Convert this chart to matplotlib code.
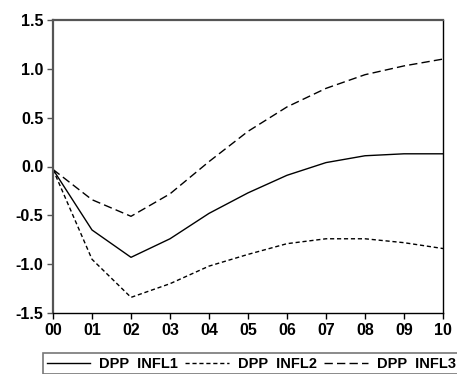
import matplotlib
matplotlib.use("Agg")
import matplotlib.pyplot as plt

# 数据
periods = ["00", "01", "02", "03", "04", "05", "06", "07", "08", "09", "10"]
infl1 = [-0.03, -0.65, -0.93, -0.74, -0.48, -0.27, -0.09, 0.04, 0.11, 0.13, 0.13]
infl2 = [-0.03, -0.95, -1.34, -1.20, -1.02, -0.90, -0.79, -0.74, -0.74, -0.78, -0.84]
infl3 = [-0.03, -0.34, -0.51, -0.28, 0.05, 0.36, 0.61, 0.80, 0.94, 1.03, 1.10]
labels = ["DPP  INFL1", "DPP  INFL2", "DPP  INFL3"]
yticks = [-1.5, -1.0, -0.5, 0.0, 0.5, 1.0, 1.5]

plt.rcParams['font.family'] = ['Liberation Sans', 'DejaVu Sans']
plt.rcParams['font.weight'] = 'bold'

W, H = 457, 374
fig = plt.figure(figsize=(W / 100, H / 100), dpi=100)
ax = fig.add_axes([53 / W, 1 - 313 / H, (443 - 53) / W, (313 - 20) / H])

x = list(range(len(periods)))
l1, = ax.plot(x, infl1, color='black', lw=1.0, linestyle='-')
l2, = ax.plot(x, infl2, color='black', lw=1.0, linestyle=(0, (3, 2)))
l3, = ax.plot(x, infl3, color='black', lw=1.0, linestyle=(0, (6, 3)))

ax.set_xlim(0, 10)
ax.set_ylim(-1.5, 1.5)
ax.set_xticks(x)
ax.set_xticklabels(periods)
ax.set_yticks(yticks)
ax.set_yticklabels([f"{v:.1f}" for v in yticks])
ax.tick_params(axis='both', direction='out', length=4, width=1, labelsize=11.5, pad=3)
ax.tick_params(axis='y', colors='#555555', labelcolor='black')

# 边框样式
for s in ['left', 'top']:
    ax.spines[s].set_color('#555555')
    ax.spines[s].set_linewidth(1.6)
for s in ['right', 'bottom']:
    ax.spines[s].set_color('black')
    ax.spines[s].set_linewidth(1.0)

# 图例
leg = fig.legend([l1, l2, l3], labels, loc='upper left',
                 bbox_to_anchor=(43 / W, 1 - 353 / H), ncol=3,
                 fontsize=10.5, frameon=True, fancybox=False,
                 handlelength=3.0, handletextpad=0.6, columnspacing=0.5,
                 borderpad=0.25, borderaxespad=0)
leg.get_frame().set_edgecolor('#555555')
leg.get_frame().set_linewidth(1.2)

fig.savefig('out.png', dpi=100)
